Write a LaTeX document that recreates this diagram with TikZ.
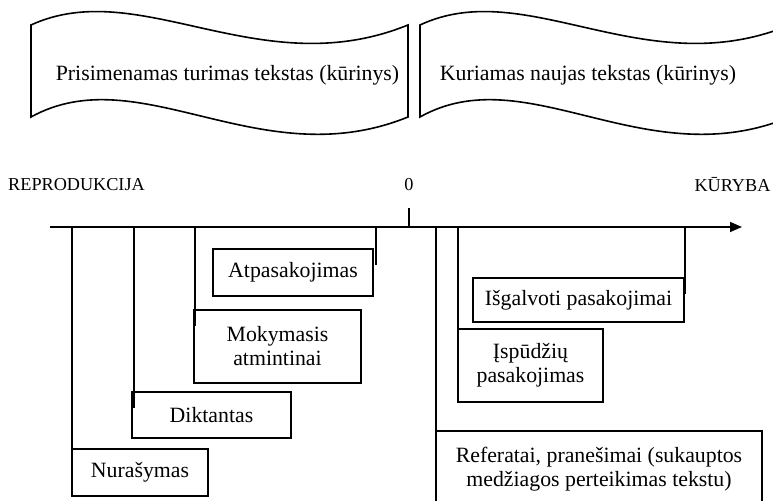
\documentclass[tikz,border=0pt]{standalone}
\usepackage{fontspec}
\setmainfont{Liberation Serif}
\usetikzlibrary{arrows.meta,positioning,calc}
\tikzset{
  lbox/.style={draw, line width=0.8pt, inner sep=0pt, align=center,
    font=\fontsize{10.9}{12}\selectfont},
  tick/.style={line width=0.8pt},
  lbl/.style={font=\fontsize{9.1}{11}\selectfont}
}

\begin{document}
\begin{tikzpicture}[x=0.5pt,y=-0.5pt]
                %fix the page first
                \useasboundingbox (0,0) rectangle (773,501);
                \clip (0,0) rectangle (773,501);

                %the two wavy banners on top
                \draw[tick] (31,25) .. controls (140,-25) and (260,85) .. (408,25) -- (408,117)
                    .. controls (260,177) and (140,57) .. (31,117) -- cycle;
                \draw[tick] (420,25) .. controls (527,-25) and (645,85) .. (790,25) -- (790,117)
                    .. controls (645,177) and (527,57) .. (420,117) -- cycle;
                \node[font=\fontsize{10.9}{12}\selectfont] (old) at (227.5,75) {Prisimenamas turimas tekstas (kūrinys)};
                \node[font=\fontsize{10.9}{12}\selectfont] (new) at (588,75) {Kuriamas naujas tekstas (kūrinys)};

                %labels above the axis
                \node[lbl] (repr) at (76.5,185) {REPRODUKCIJA};
                \node[lbl] (zero) at (409,185) {0};
                \node[lbl] (kur) at (732.5,185) {KŪRYBA};

                %the axis and the zero mark
                \coordinate (ax0) at (50,227);
                \coordinate (ax1) at (742,227);
                \draw[tick,-{Triangle[length=6pt,width=5pt]}] (ax0) -- (ax1);
                \draw[tick] ([yshift=-5pt]zero.south) -- (zero.south |- ax0);

                %boxes on the reproduction side
                \node[lbox, minimum width=68pt, minimum height=23.5pt] (nura) at (140,472.5) {Nurašymas};
                \node[lbox, minimum width=79.5pt, minimum height=23pt] (dikt) at (211.5,415) {Diktantas};
                \node[lbox, minimum width=83.5pt, minimum height=36.5pt] (moky) at (277.5,346.5) {Mokymasis\\atmintinai};
                \node[lbox, minimum width=80pt, minimum height=23.5pt] (atpa) at (293,272.5) {Atpasakojimas};

                %boxes on the creation side
                \node[lbox, minimum width=105.5pt, minimum height=22pt] (isga) at (578.5,300) {Išgalvoti pasakojimai};
                \node[lbox, minimum width=72.5pt, minimum height=36.5pt] (ispu) at (530.5,365.5) {Įspūdžių\\pasakojimas};
                \node[lbox, minimum width=163pt, inner ysep=8pt, anchor=north] (refe) at (599,430) {Referatai, pranešimai (sukauptos\\medžiagos perteikimas tekstu)};

                %lines from the axis down to the boxes
                \foreach \x/\b in {72/nura,134/dikt,195/moky,376/atpa,436/refe,458/ispu,685/isga}{
                    \coordinate (k\b) at (\x,227);
                    \draw[tick] (k\b) -- (k\b |- \b.north) -- ++(0,17);
                }
\end{tikzpicture}
\end{document}
